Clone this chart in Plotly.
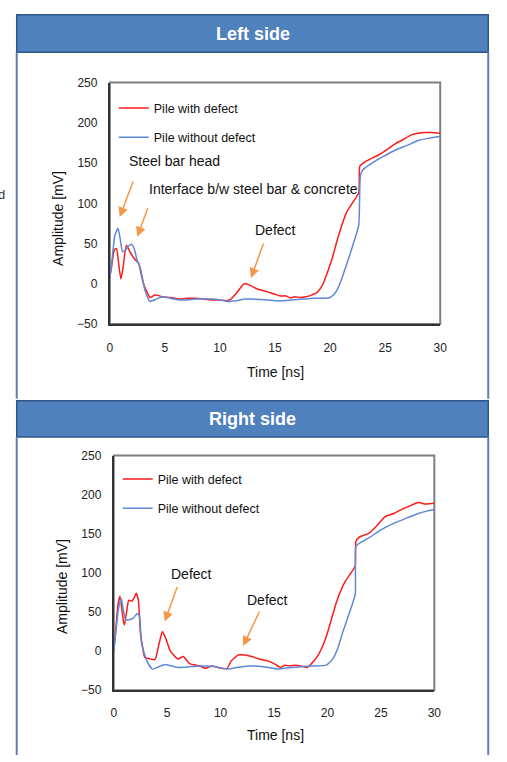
import plotly.graph_objects as go

W, H = 507, 762

# ---------------- data ----------------
# Left side, pile with defect
left_def_t = [0, 0.2, 0.4, 0.6, 0.8, 1.0, 1.2, 1.5, 1.9, 2.3, 2.6, 2.8, 3.05, 3.3, 3.65, 4.1,
              4.8, 5.5, 6.3, 7.0, 7.8, 8.5, 9.3, 10.0, 10.6, 11.0, 11.4, 11.8, 12.2, 12.6,
              13.4, 14.3, 15.0, 15.5, 16.0, 16.4, 16.8, 17.3, 17.8, 18.3, 18.8, 19.3, 19.7,
              20.2, 20.6, 21.0, 21.5, 22.0, 22.6, 22.7, 23.0, 23.5, 24.4, 25.2, 25.9, 26.6,
              27.4, 28.0, 28.6, 29.3, 30]
left_def_v = [8, 25, 42, 44, 25, 6, 20, 48, 38, 30, 26, 15, 0, -8, -17, -14,
              -16, -17, -19, -18, -18, -19, -20, -20, -21, -19, -13, -6, 0, -1,
              -6.5, -10, -13, -15, -15, -17.5, -16, -17, -16, -14, -11, -2, 12,
              32, 52, 70, 89, 100, 113, 146, 150, 154, 160, 167, 174, 179,
              185, 187, 188, 188, 187]

# Left side, pile without defect
left_ok_t = [0, 0.2, 0.45, 0.74, 0.95, 1.15, 1.42, 1.7, 2.0, 2.25, 2.45, 2.76, 3.2, 3.65, 4.2,
             4.8, 5.5, 6.3, 7.0, 7.8, 8.5, 9.3, 10.0, 10.8, 11.5, 12.3, 13.0, 14.3, 15.0,
             15.5, 16.5, 17.5, 18.5, 19.5, 20.0, 20.3, 20.6, 21.0, 21.5, 22.0, 22.6, 22.75,
             23.0, 23.8, 24.8, 25.9, 27.0, 28.0, 29.0, 30]
left_ok_v = [8, 30, 60, 69, 55, 40, 42, 47, 49, 42, 30, 20, -8.5, -22, -19,
             -16, -18, -20, -20, -19, -19, -19, -20, -22, -21, -19, -19, -20, -21,
             -21, -20, -19, -18, -18, -17, -14, -8.5, 4, 24, 45, 73, 134,
             142, 150, 158, 166, 172, 178, 181, 183]

# Right side, pile with defect
right_def_t = [0, 0.2, 0.4, 0.58, 0.75, 0.9, 1.0, 1.2, 1.4, 1.7, 1.9, 2.1, 2.3, 2.5, 2.7, 2.9,
               3.4, 3.85, 4.25, 4.55, 4.9, 5.3, 6.0, 6.5, 7.1, 8.0, 8.6, 9.2, 10.0, 10.6,
               11.0, 11.65, 12.3, 12.9, 13.6, 14.4, 15.0, 15.6, 16.0, 16.5, 17.0, 17.5,
               18.1, 18.5, 19.0, 19.5, 19.9, 20.4, 20.8, 21.2, 21.7, 22.2, 22.6, 22.66,
               23.0, 23.9, 24.6, 25.4, 26.2, 26.9, 27.6, 28.5, 29.2, 30]
right_def_v = [0, 30, 60, 70, 55, 38, 33.5, 50, 65, 64, 68, 74, 65, 23, 5, -8,
               -10, -11, 10, 25, 15, 0, -10, -7, -16, -19, -22, -19, -22, -22,
               -12.5, -5, -5, -7, -10, -12.5, -16, -21, -18, -19, -18, -19,
               -21, -16, -8, 5, 19, 42, 61, 76, 90, 100, 109, 140,
               146, 151, 160, 172, 176, 181, 185, 190, 188, 189]

# Right side, pile without defect
right_ok_t = [0, 0.2, 0.45, 0.7, 0.9, 1.1, 1.4, 1.8, 2.2, 2.4, 2.6, 3.1, 3.6, 4.2, 4.8, 5.4,
              6.1, 7.0, 8.0, 8.6, 9.5, 10.7, 11.5, 12.6, 13.1, 14.0, 15.4, 16.5, 17.5, 18.5,
              19.9, 20.5, 21.0, 21.4, 22.0, 22.6, 22.66, 23.0, 23.9, 25.0, 26.3, 27.4, 28.5,
              29.3, 30]
right_ok_v = [0, 25, 55, 67, 52, 40, 40, 42, 48, 45, 10, -12.5, -23, -20, -17, -19,
              -21, -20, -19, -19, -20, -23, -21, -19, -19, -20, -23, -21, -20, -19,
              -18, -10, 5, 23, 47, 73, 134, 138, 145, 155, 164, 170, 176,
              179, 181]

series_names = ["Pile with defect", "Pile without defect"]
panel_titles = ["Left side", "Right side"]
x_ticks = [0, 5, 10, 15, 20, 25, 30]
y_ticks = [-50, 0, 50, 100, 150, 200, 250]

# ---------------- styling helpers ----------------
RED = "#FF1A1A"
BLUE = "#5E88D8"
ORANGE = "#F79646"
FONT = "Liberation Sans, Arial, sans-serif"


def px(x):
    return x / W


def py(y):
    return 1 - y / H


fig = go.Figure()

# top plot area: x 109..446, y 77..323 ; bottom: x 113..440, y 457..696
dom = {
    1: dict(x=[px(109), px(446)], y=[py(323), py(77)]),
    2: dict(x=[px(113), px(440)], y=[py(696), py(457)]),
}


def line(color):
    return dict(color=color, width=1.5, shape="spline", smoothing=0.5)


fig.add_trace(go.Scatter(x=left_def_t, y=left_def_v, mode="lines", name=series_names[0],
                         line=line(RED), xaxis="x", yaxis="y",
                         legend="legend", legendgroup="a"))
fig.add_trace(go.Scatter(x=left_ok_t, y=left_ok_v, mode="lines", name=series_names[1],
                         line=line(BLUE), xaxis="x", yaxis="y",
                         legend="legend", legendgroup="b"))
fig.add_trace(go.Scatter(x=right_def_t, y=right_def_v, mode="lines", name=series_names[0],
                         line=line(RED), xaxis="x2", yaxis="y2",
                         legend="legend2", legendgroup="c"))
fig.add_trace(go.Scatter(x=right_ok_t, y=right_ok_v, mode="lines", name=series_names[1],
                         line=line(BLUE), xaxis="x2", yaxis="y2",
                         legend="legend2", legendgroup="d"))

axis_common = dict(showgrid=False, zeroline=False, showline=True, linecolor="#333333",
                   linewidth=2, ticks="", tickfont=dict(family=FONT, size=12, color="#222222"))

fig.update_layout(
    xaxis=dict(domain=dom[1]["x"], anchor="y", range=[0, 30], tickvals=x_ticks,
               ticklabelstandoff=12, **axis_common),
    yaxis=dict(domain=dom[1]["y"], anchor="x", range=[-50, 250], tickvals=y_ticks,
               ticklabelstandoff=8, **axis_common),
    xaxis2=dict(domain=dom[2]["x"], anchor="y2", range=[0, 30], tickvals=x_ticks,
                ticklabelstandoff=10, **axis_common),
    yaxis2=dict(domain=dom[2]["y"], anchor="x2", range=[-50, 250], tickvals=y_ticks,
                ticklabelstandoff=8, **axis_common),
)

legend_common = dict(bgcolor="rgba(0,0,0,0)", borderwidth=0, tracegroupgap=10,
                     traceorder="grouped", xanchor="left", yanchor="top",
                     itemwidth=30, font=dict(family=FONT, size=12.5, color="#111111"))
fig.update_layout(
    legend=dict(x=px(113), y=py(88), **legend_common),
    legend2=dict(x=px(117), y=py(466), **legend_common),
)

fig.update_layout(width=W, height=H, margin=dict(l=0, r=0, t=0, b=0),
                  paper_bgcolor="white", plot_bgcolor="white",
                  font=dict(family=FONT))

shapes = []
annos = []


def label(text, x, y, size=14, color="#111111", xanchor="center", **kw):
    return dict(text=text, xref="paper", yref="paper", x=px(x), y=py(y),
                xanchor=xanchor, yanchor="middle", showarrow=False,
                font=dict(family=FONT, size=size, color=color), **kw)


# panels: headers and side borders
for i, (top, bot, body_end) in enumerate([(8, 46, 399), (401, 438, 762)]):
    shapes.append(dict(type="rect", xref="paper", yref="paper",
                       x0=px(14), x1=px(495), y0=py(bot), y1=py(top),
                       fillcolor="#4F81BD", line=dict(color="#30558A", width=1.5)))
    for xx in (14, 495):
        shapes.append(dict(type="line", xref="paper", yref="paper",
                           x0=px(xx), x1=px(xx), y0=py(body_end), y1=py(bot),
                           line=dict(color="#5F7FAE", width=2)))
    annos.append(label("<b>%s</b>" % panel_titles[i], 255, (top + bot) / 2,
                       size=18, color="white"))

# plot frames (gray top/right)
for k in (1, 2):
    shapes.append(dict(type="rect", xref="paper", yref="paper", layer="below",
                       x0=dom[k]["x"][0], x1=dom[k]["x"][1],
                       y0=dom[k]["y"][0], y1=dom[k]["y"][1],
                       line=dict(color="#7F7F7F", width=2)))

# axis titles
annos += [
    label("Amplitude [mV]", 56, 215, textangle=-90),
    label("Time [ns]", 278, 372),
    label("Amplitude [mV]", 60, 590, textangle=-90),
    label("Time [ns]", 278, 742),
]

# callout labels
annos += [
    label("Steel bar head", 127, 157, xanchor="left"),
    label("Interface b/w steel bar &amp; concrete", 147, 185, xanchor="left"),
    label("Defect", 278, 227),
    label("Defect", 192, 578),
    label("Defect", 270, 604),
]

# arrows: (start_x, start_y, tip_x, tip_y) in pixels
arrows = [(133, 177, 119, 214), (148, 204, 137, 234), (266, 240, 253, 276),
          (178, 590, 165, 626), (262, 615, 245, 651)]
for sx, sy, tx, ty in arrows:
    annos.append(dict(text="", xref="paper", yref="paper", x=px(tx), y=py(ty),
                      ax=sx - tx, ay=sy - ty, axref="pixel", ayref="pixel",
                      showarrow=True, arrowhead=2, arrowsize=1.3, arrowwidth=1.5,
                      arrowcolor=ORANGE, standoff=0))

# cropped fragment at left edge
annos.append(label("d", 4, 191, size=13, color="#333333", xanchor="right"))

fig.update_layout(shapes=shapes, annotations=annos)

fig.write_html("out.html", config={"displayModeBar": False},
               post_script="document.body.style.margin='0';"
                           "document.body.style.padding='0';"
                           "document.body.style.overflow='hidden';"
                           "document.documentElement.style.overflow='hidden';")
